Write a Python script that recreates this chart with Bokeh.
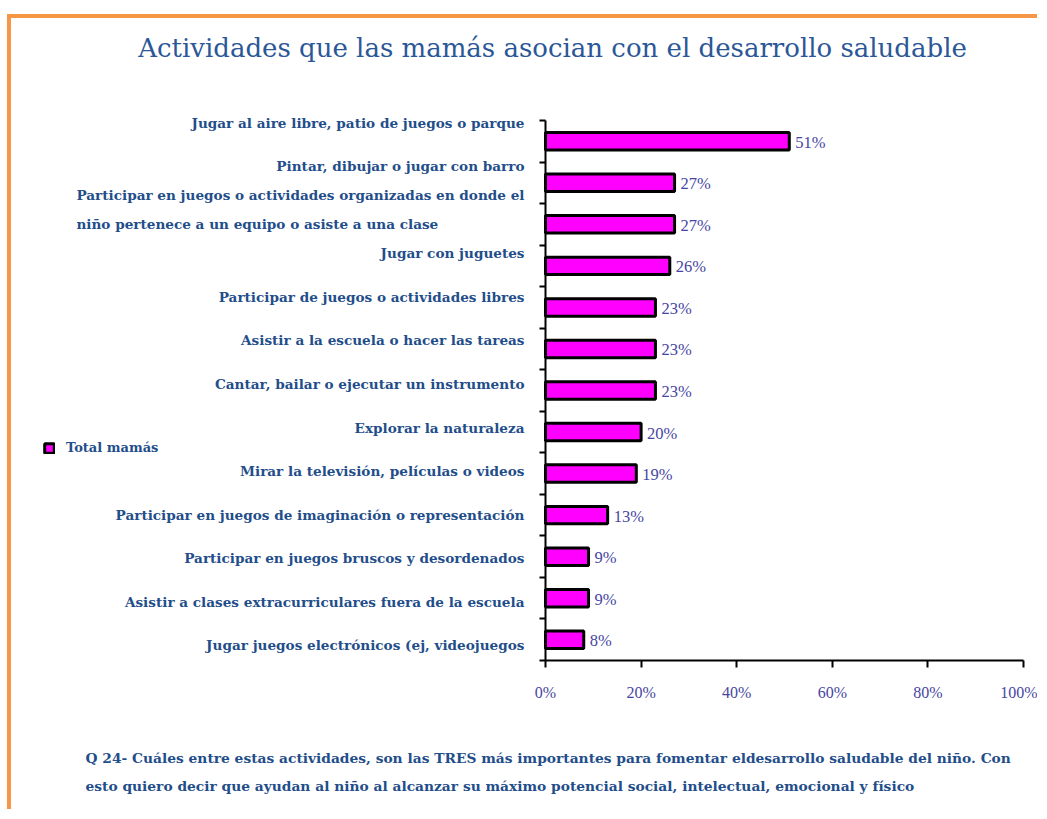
from bokeh.plotting import figure
from bokeh.models import (Range1d, FixedTicker, PrintfTickFormatter, LabelSet, Label,
                          ColumnDataSource, Legend, LegendItem, LinearAxis)
from bokeh.core.properties import value
from bokeh.embed import file_html
from bokeh.resources import INLINE

# ---------------- data ----------------
categories = [
    "Jugar al aire libre, patio de juegos o parque",
    "Pintar, dibujar o jugar con barro",
    "Participar en juegos o actividades organizadas en donde el\nniño pertenece a un equipo o asiste a una clase",
    "Jugar con juguetes",
    "Participar de juegos o actividades libres",
    "Asistir a la escuela o hacer las tareas",
    "Cantar, bailar o ejecutar un instrumento",
    "Explorar la naturaleza",
    "Mirar la televisión, películas o videos",
    "Participar en juegos de imaginación o representación",
    "Participar en juegos bruscos y desordenados",
    "Asistir a clases extracurriculares fuera de la escuela",
    "Jugar juegos electrónicos (ej, videojuegos",
]
values = [51, 27, 27, 26, 23, 23, 23, 20, 19, 13, 9, 9, 8]
x_ticks = [0, 20, 40, 60, 80, 100]
series_name = "Total mamás"
title_text = "Actividades que las mamás asocian con el desarrollo saludable"
caption_lines = [
    "Q 24- Cuáles entre estas actividades, son las TRES más importantes para fomentar eldesarrollo saludable del niño. Con",
    "esto quiero decir que ayudan al niño al alcanzar su máximo potencial social, intelectual, emocional y físico",
]

n = len(categories)
idx = list(range(n))
src = ColumnDataSource(dict(y=idx, v=values, cat=categories,
                            vt=[f"{v}%" for v in values]))

NAVY = "#1F4E8A"
VAL = "#4646A2"
SERIF = "DejaVu Serif"

# ---------------- layout (page pixels) ----------------
OX, OY = 11, 18          # canvas origin on the page
W, H = 1030, 795
AX_L, AX_R = 545, 1023   # x = 0 .. 100
AX_T, AX_B = 120, 660    # bar slots top .. bottom
LAB0, LAB_STEP = 122, 43.58   # category label positions

sx = (AX_R - AX_L) / 100.0
sy = (AX_B - AX_T) / n
def px_x(px):
    return (px - AX_L) / sx
def px_y(py):
    return -0.5 + (py - AX_T) / sy

x_range = Range1d(px_x(OX), px_x(OX + W))
y_range = Range1d(px_y(OY + H), px_y(OY))
lab_range = Range1d((OY + H - LAB0) / LAB_STEP, (OY - LAB0) / LAB_STEP)

p = figure(width=W, height=H, min_border=0,
           x_range=x_range, y_range=y_range,
           x_axis_location=None, y_axis_location=None,
           output_backend="svg", toolbar_location=None)
p.styles = {"border-left": "4px solid #F79646", "border-top": "4px solid #F79646",
            "margin-left": "7px", "margin-top": "14px"}
p.extra_y_ranges = {"lab": lab_range}
p.xgrid.visible = False
p.ygrid.visible = False
p.outline_line_color = None
p.background_fill_color = "white"
p.border_fill_color = "white"

# x axis
xa = LinearAxis(fixed_location=n - 0.5, bounds=(0, 100))
xa.ticker = FixedTicker(ticks=x_ticks)
xa.formatter = PrintfTickFormatter(format="%d%%")
xa.axis_line_width = 2
xa.major_tick_line_width = 2
xa.major_tick_in = 0
xa.major_tick_out = 7
xa.minor_tick_in = 0
xa.minor_tick_out = 0
xa.major_label_standoff = 16
xa.major_label_text_font = "Liberation Serif"
xa.major_label_text_font_size = "16px"
xa.major_label_text_color = VAL
p.add_layout(xa, "below")

# y axis
ya = LinearAxis(fixed_location=0, bounds=(-0.5, n - 0.5))
ya.ticker = FixedTicker(ticks=[i - 0.5 for i in range(n + 1)])
ya.axis_line_width = 2
ya.major_tick_line_width = 2
ya.major_tick_in = 0
ya.major_tick_out = 6
ya.minor_tick_in = 0
ya.minor_tick_out = 0
ya.major_label_text_font_size = "0px"
ya.major_label_text_alpha = 0
p.add_layout(ya, "left")

bars = p.hbar(y="y", right="v", height=0.42, source=src,
              fill_color="#FF00FF", line_color="black", line_width=3)

# value labels
p.add_layout(LabelSet(x="v", y="y", text="vt", source=src, x_offset=6, y_offset=-1,
                      text_baseline="middle", text_align="left",
                      text_font=value("Liberation Serif"), text_font_size=value("16.5px"),
                      text_color=VAL))

# category labels (own scale)
p.add_layout(LabelSet(x=0, y="y", text="cat", source=src, y_range_name="lab",
                      x_offset=-21, text_align="right", text_baseline="middle",
                      text_font=value(SERIF), text_font_style="bold",
                      text_font_size=value("13.6px"),
                      text_color=NAVY, text_line_height=1.85))

# legend
legend = Legend(items=[LegendItem(label=series_name, renderers=[bars])],
                location=(43 - OX, OY + H - 455), padding=0, margin=0, spacing=0,
                glyph_width=12, glyph_height=12, label_height=12, label_standoff=11,
                label_text_font=SERIF, label_text_font_style="bold",
                label_text_font_size="13px", label_text_color=NAVY,
                border_line_color=None, background_fill_alpha=0)
p.add_layout(legend)

# title
p.add_layout(Label(x=px_x(552), y=px_y(47), text=title_text,
                   text_align="center", text_baseline="middle",
                   text_font=SERIF, text_font_size="26px", text_color="#2B5797"))

# caption
for k, line in enumerate(caption_lines):
    p.add_layout(Label(x=px_x(85), y=px_y(757 + 28 * k), text=line,
                       text_align="left", text_baseline="middle",
                       text_font=SERIF, text_font_style="bold", text_font_size="13.8px",
                       text_color=NAVY))

open("out.html", "w").write(file_html(p, INLINE))
